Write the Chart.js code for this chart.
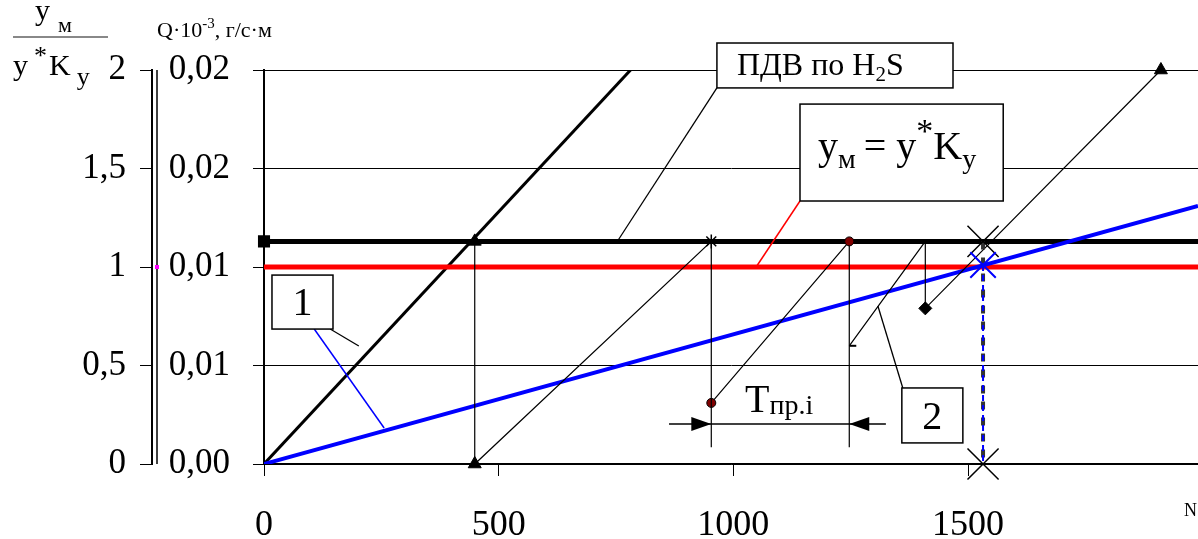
<!DOCTYPE html>
<html>
<head>
<meta charset="utf-8">
<script src="https://cdn.jsdelivr.net/npm/chart.js@4.4.1/dist/chart.umd.min.js"></script>
<style>
  html, body { margin: 0; padding: 0; background: #fff; }
  #wrap { width: 1198px; height: 539px; position: relative; }
</style>
</head>
<body>
<div id="wrap"><canvas id="chart"></canvas></div>
<script>
// ===== данные =====
const xTicks = [0, 500, 1000, 1500];
const yTicks = [0, 0.5, 1, 1.5, 2];
const ratioLabels = ['0', '0,5', '1', '1,5', '2'];
const qLabels = ['0,00', '0,01', '0,01', '0,02', '0,02'];

// основные линии (N -> ym / y*Ky)
const fastN = [0, 781];
const fastY = [0, 2];
const blueN = [0, 1990];
const blueY = [0, 1.31];
const limitN = [0, 1990];      // ПДВ по H2S
const limitY = [1.13, 1.13];
const ymN = [0, 1990];         // ym = y*Ky
const ymY = [1, 1];

// тонкие "пилы"
const saw1N = [449, 449, 953, 953];
const saw1Y = [1.13, 0, 1.13, 0.085];
const saw2N = [953, 1247, 1247];
const saw2Y = [0.31, 1.13, 0.085];
const saw3N = [1247, 1409, 1409, 1911];
const saw3Y = [0.6, 1.13, 0.79, 2];

// точка пересечения
const dashN = [1532, 1532];
const dashY = [1.13, 0];
const blueDashY = [1.01, 0];
const crossN = [1532, 1532, 1532];
const crossY = [1.13, 1.01, 0];

const pts = (n, v) => n.map((x, i) => ({ x: x, y: v[i] }));

const SERIF = '"Liberation Serif", "Times New Roman", serif';
Chart.defaults.font.family = SERIF;
Chart.defaults.color = '#000';

function seg(ctx, a, b, color, w) {
    ctx.beginPath();
    ctx.strokeStyle = color;
    ctx.lineWidth = w;
    ctx.moveTo(a[0], a[1]);
    ctx.lineTo(b[0], b[1]);
    ctx.stroke();
}
function box(ctx, a, b) {
    ctx.fillStyle = '#fff';
    ctx.fillRect(a[0], a[1], b[0] - a[0], b[1] - a[1]);
    ctx.strokeStyle = '#000';
    ctx.lineWidth = 1.5;
    ctx.strokeRect(a[0], a[1], b[0] - a[0], b[1] - a[1]);
}
// текст кусками: [строка, размер, сдвиг по вертикали, доп. отступ]
function runs(ctx, x, y, parts) {
    ctx.fillStyle = '#000';
    ctx.textBaseline = 'alphabetic';
    ctx.textAlign = 'left';
    parts.forEach(p => {
        ctx.font = p[1] + 'px ' + SERIF;
        ctx.fillText(p[0], x, y + p[2]);
        x += ctx.measureText(p[0]).width + (p[3] || 0);
    });
}
function arrow(ctx, tip, dir) {
    ctx.beginPath();
    ctx.fillStyle = '#000';
    ctx.moveTo(tip[0], tip[1]);
    ctx.lineTo(tip[0] - dir * 20, tip[1] - 7);
    ctx.lineTo(tip[0] - dir * 20, tip[1] + 7);
    ctx.closePath();
    ctx.fill();
}

// ===== подписи и выноски =====
const notes = {
    id: 'notes',
    afterDatasetsDraw(chart) {
        const { ctx, scales: { x, y } } = chart;
        const P = (n, v) => [x.getPixelForValue(n), y.getPixelForValue(v)];
        ctx.save();

        // ПДВ по H2S
        seg(ctx, P(965, 1.909), P(752, 1.127), '#000', 1.3);
        let a = P(965, 2.137), b = P(1468, 1.909);
        box(ctx, a, b);
        runs(ctx, a[0] + 20, b[1] - 13, [['ПДВ по H', 32, 0], ['2', 21, 6], ['S', 32, 0]]);

        // ym = y*Ky
        seg(ctx, P(1142, 1.335), P(1050, 1.005), '#ff0000', 1.5);
        a = P(1142, 1.827); b = P(1575, 1.335);
        box(ctx, a, b);
        runs(ctx, a[0] + 18, b[1] - 42, [['y', 40, 0], ['м', 28, 9, 8], ['= y', 40, 0], ['*', 34, -17], ['K', 40, 0], ['y', 28, 9]]);

        // 1
        seg(ctx, P(141, 0.685), P(202, 0.599), '#000', 1.3);
        seg(ctx, P(107, 0.685), P(256, 0.183), '#0000ff', 1.5);
        a = P(17, 0.959); b = P(147, 0.685);
        box(ctx, a, b);
        ctx.font = '40px ' + SERIF;
        ctx.fillStyle = '#000';
        ctx.textAlign = 'center';
        ctx.fillText('1', (a[0] + b[0]) / 2, b[1] - 14);

        // 2
        seg(ctx, P(1361, 0.386), P(1308, 0.802), '#000', 1.3);
        a = P(1359, 0.386); b = P(1489, 0.107);
        box(ctx, a, b);
        ctx.font = '40px ' + SERIF;
        ctx.fillStyle = '#000';
        ctx.textAlign = 'center';
        ctx.fillText('2', (a[0] + b[0]) / 2, b[1] - 14);

        // Tпр.i
        seg(ctx, P(863, 0.203), P(1325, 0.203), '#000', 1.5);
        arrow(ctx, P(953, 0.203), 1);
        arrow(ctx, P(1247, 0.203), -1);
        const t = P(1025, 0.264);
        runs(ctx, t[0], t[1], [['T', 40, 0], ['пр.i', 28, 2]]);

        ctx.restore();
    },
    afterDraw(chart) {
        const { ctx, scales: { y, y2 } } = chart;
        ctx.save();
        // двойная ось слева
        const xx = y2.right + 5;
        seg(ctx, [xx, y.top], [xx, y.bottom], '#000', 1.5);
        ctx.fillStyle = '#ff00ff';
        ctx.fillRect(xx - 2, y.getPixelForValue(1) - 2, 4, 4);

        // ym / y*Ky
        seg(ctx, [13, 37], [108, 37], '#888', 2);
        runs(ctx, 35, 20, [['y', 30, 0, 8], ['м', 22, 12]]);
        runs(ctx, 13, 75, [['y', 30, 0, 6], ['*', 26, -11, 2], ['K', 30, 0, 6], ['y', 26, 10]]);

        // Q·10-3, г/с·м
        runs(ctx, 157, 37, [['Q·10', 22, 0], ['-3', 15, -9], [', г/с·м', 22, 0]]);

        // N
        ctx.font = '18px ' + SERIF;
        ctx.fillStyle = '#000';
        ctx.textAlign = 'right';
        ctx.fillText('N', 1197, 516);
        ctx.restore();
    }
};

const thin = { borderColor: '#000', borderWidth: 1.2, showLine: true, clip: 12, pointBackgroundColor: '#000', pointBorderColor: '#000' };

new Chart(document.getElementById('chart'), {
    type: 'scatter',
    data: {
        datasets: [
            {
                data: pts(crossN, crossY), showLine: false, clip: false,
                pointStyle: 'crossRot', pointRadius: [22, 18, 22],
                pointBorderColor: ['#000', '#0000ff', '#000'], pointBorderWidth: [1.5, 2, 1.5]
            },
            { data: pts(dashN, blueDashY), showLine: true, borderColor: '#0000ff', borderWidth: 2, borderDash: [6, 4], pointRadius: 0 },
            { data: pts(dashN, dashY), showLine: true, borderColor: '#333', borderWidth: 4, borderDash: [8, 8], pointRadius: 0 },
            Object.assign({
                data: pts(saw1N, saw1Y),
                pointStyle: ['triangle', 'triangle', 'star', 'circle'],
                pointRadius: [7.5, 7.5, 7, 0], pointBorderWidth: [1, 1, 1.5, 0]
            }, thin),
            Object.assign({
                data: pts(saw2N, saw2Y),
                pointStyle: 'circle', pointRadius: [4.5, 4.5, 0],
                pointBorderWidth: 1
            }, thin, { pointBackgroundColor: '#800000' }),
            Object.assign({
                data: pts(saw3N, saw3Y),
                pointStyle: ['dash', 'circle', 'rectRot', 'triangle'],
                pointRadius: [7, 0, 6.5, 7.5], pointBorderWidth: [2, 0, 1, 1]
            }, thin),
            { data: pts(blueN, blueY), showLine: true, borderColor: '#0000ff', borderWidth: 4, pointRadius: 0 },
            { data: pts(ymN, ymY), showLine: true, borderColor: '#ff0000', borderWidth: 5, pointRadius: 0 },
            {
                data: pts(limitN, limitY), showLine: true, borderColor: '#000', borderWidth: 5, clip: 8,
                pointStyle: 'rect', pointRadius: [5, 0], pointBackgroundColor: '#000', pointBorderColor: '#000'
            },
            { data: pts(fastN, fastY), showLine: true, borderColor: '#000', borderWidth: 3, pointRadius: 0 }
        ]
    },
    options: {
        responsive: true,
        maintainAspectRatio: false,
        animation: false,
        events: [],
        layout: { autoPadding: false, padding: { top: 70, left: 0, right: 0, bottom: 0 } },
        plugins: { legend: { display: false }, tooltip: { enabled: false } },
        scales: {
            x: {
                type: 'linear', position: 'bottom', min: 0, max: 1990,
                afterBuildTicks: s => { s.ticks = xTicks.map(v => ({ value: v })); },
                afterFit: s => { s.height = 75; s.paddingLeft = 0; s.paddingRight = 0; },
                grid: { drawOnChartArea: false, tickLength: 12, color: '#000', lineWidth: 1 },
                border: { color: '#000', width: 1.5 },
                ticks: { font: { size: 36 }, padding: 28, autoSkip: false, maxRotation: 0, callback: v => String(v) }
            },
            y: {
                type: 'linear', position: 'left', weight: 0, min: 0, max: 2,
                afterBuildTicks: s => { s.ticks = yTicks.map(v => ({ value: v })); },
                afterFit: s => { s.width = 112; },
                grid: { color: '#000', lineWidth: 1, tickLength: 11 },
                border: { color: '#000', width: 2 },
                ticks: { font: { size: 35 }, padding: 23, callback: (v, i) => qLabels[i] }
            },
            y2: {
                type: 'linear', position: 'left', weight: 1, min: 0, max: 2,
                afterBuildTicks: s => { s.ticks = yTicks.map(v => ({ value: v })); },
                afterFit: s => { s.width = 152; },
                grid: { drawOnChartArea: false, color: '#000', lineWidth: 1, tickLength: 12 },
                border: { color: '#000', width: 2 },
                ticks: { font: { size: 35 }, padding: 14, callback: (v, i) => ratioLabels[i] }
            }
        }
    },
    plugins: [notes]
});
</script>
</body>
</html>
